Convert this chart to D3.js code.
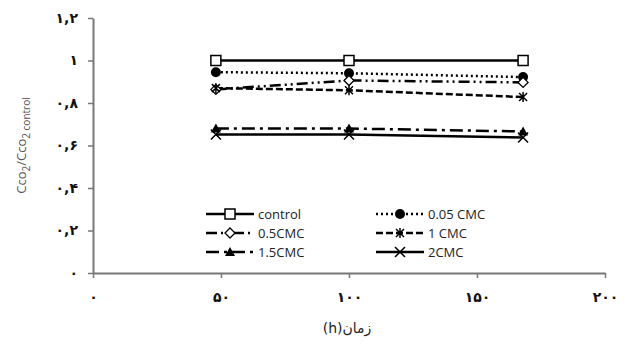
<!DOCTYPE html>
<meta charset="utf-8">
<style>
  body { margin: 0; background: #fff; }
  .tick text { font-family: 'DejaVu Sans', sans-serif; font-weight: bold; font-size: 14px; fill: #111; }
  .axis path, .axis line { stroke: #777; }
</style>
<body>
<div id="vis"></div>
<script src="https://cdn.jsdelivr.net/npm/d3@7"></script>
<script>

const width = 626,
    height = 345;

// data
const hours = [48, 100, 168];
const seriesNames = ['control', '0.05 CMC', '0.5CMC', '1 CMC', '1.5CMC', '2CMC'];
const control = [1, 1, 1];
const cmc005 = [0.945, 0.94, 0.922];
const cmc05 = [0.864, 0.906, 0.897];
const cmc1 = [0.87, 0.86, 0.828];
const cmc15 = [0.68, 0.68, 0.666];
const cmc2 = [0.652, 0.652, 0.638];
const yTicks = [0, 0.2, 0.4, 0.6, 0.8, 1, 1.2];
const xTicks = [0, 50, 100, 150, 200];

const styles = [
  {dash: null, marker: 'square'},
  {dash: '2,3', marker: 'circle'},
  {dash: '11,4,2,4,2,4', marker: 'diamond'},
  {dash: '7,3', marker: 'asterisk'},
  {dash: '13,5,3,5', marker: 'triangle'},
  {dash: null, marker: 'cross'}
];
const allValues = [control, cmc005, cmc05, cmc1, cmc15, cmc2];

const faDigits = s => String(s).replace(/[0-9]/g, d => '۰۱۲۳۴۵۶۷۸۹'[d]).replace('.', ',');

const margin = {left: 93, right: 21, top: 18, bottom: 72};

const svg = d3.select('#vis')
    .append('svg')
    .attr('width', width)
    .attr('height', height);

const x = d3.scaleLinear().domain([0, 200]).range([margin.left, width - margin.right]);
const y = d3.scaleLinear().domain([0, 1.2]).range([height - margin.bottom, margin.top]);

const yAxis = svg.append('g')
    .attr('class', 'axis')
    .attr('transform', 'translate(' + margin.left + ',0)')
    .call(d3.axisLeft(y).tickValues(yTicks).tickSize(5).tickSizeOuter(0).tickPadding(10).tickFormat(faDigits));
const xAxis = svg.append('g')
    .attr('class', 'axis')
    .attr('transform', 'translate(0,' + (height - margin.bottom) + ')')
    .call(d3.axisBottom(x).tickValues(xTicks).tickSize(5).tickSizeOuter(0).tickPadding(14).tickFormat(faDigits));
svg.selectAll('.axis path').style('stroke-width', 2);
svg.selectAll('.axis line').style('stroke-width', 1.5);

// y title
svg.append('text')
    .attr('transform', 'translate(26,' + y(0.6) + ') rotate(-90)')
    .style('font-family', 'Open Sans, sans-serif')
    .style('font-size', '13px')
    .style('fill', '#555')
    .style('text-anchor', 'middle')
    .html('Cco<tspan dy="4" font-size="10">2</tspan><tspan dy="-4">/Cco</tspan><tspan dy="4" font-size="10">2 control</tspan>');

// x title
svg.append('text')
    .attr('x', x(100) - 2)
    .attr('y', 333)
    .attr('direction', 'rtl')
    .style('font-family', 'DejaVu Sans, sans-serif')
    .style('font-size', '14px')
    .style('fill', '#222')
    .style('text-anchor', 'middle')
    .text('زمان(h)');

const drawMarker = (g, kind, cx, cy) => {
  const s = 5;
  if (kind === 'square') {
    g.append('rect').attr('x', cx - s).attr('y', cy - s).attr('width', 2 * s).attr('height', 2 * s)
      .style('fill', '#fff').style('stroke', '#000').style('stroke-width', 1.5);
  } else if (kind === 'circle') {
    g.append('circle').attr('cx', cx).attr('cy', cy).attr('r', 5).style('fill', '#000');
  } else if (kind === 'diamond') {
    g.append('path').attr('d', 'M' + cx + ',' + (cy - 5) + 'L' + (cx + 5) + ',' + cy + 'L' + cx + ',' + (cy + 5) + 'L' + (cx - 5) + ',' + cy + 'Z')
      .style('fill', '#fff').style('stroke', '#000').style('stroke-width', 1.3);
  } else if (kind === 'asterisk') {
    g.append('path').attr('d', 'M' + (cx - 4) + ',' + (cy - 4) + 'L' + (cx + 4) + ',' + (cy + 4) + 'M' + (cx + 4) + ',' + (cy - 4) + 'L' + (cx - 4) + ',' + (cy + 4) + 'M' + cx + ',' + (cy - 5) + 'V' + (cy + 5))
      .style('stroke', '#000').style('stroke-width', 1.5).style('fill', 'none');
  } else if (kind === 'triangle') {
    g.append('path').attr('d', 'M' + cx + ',' + (cy - 5) + 'L' + (cx + 5) + ',' + (cy + 4) + 'L' + (cx - 5) + ',' + (cy + 4) + 'Z')
      .style('fill', '#000');
  } else if (kind === 'cross') {
    g.append('path').attr('d', 'M' + (cx - 5) + ',' + (cy - 5) + 'L' + (cx + 5) + ',' + (cy + 5) + 'M' + (cx + 5) + ',' + (cy - 5) + 'L' + (cx - 5) + ',' + (cy + 5))
      .style('stroke', '#000').style('stroke-width', 1.5).style('fill', 'none');
  }
};

const line = d3.line()
    .x((d, i) => x(hours[i]))
    .y(d => y(d));

const chartG = svg.append('g').attr('class', 'chart-group');
allValues.forEach((vals, k) => {
  chartG.append('path')
    .attr('d', line(vals))
    .style('fill', 'none')
    .style('stroke', '#000')
    .style('stroke-width', 2.5)
    .style('stroke-dasharray', styles[k].dash);
});
allValues.forEach((vals, k) => {
  vals.forEach((v, i) => drawMarker(chartG, styles[k].marker, x(hours[i]), y(v)));
});

// legend
const legendG = svg.append('g').attr('class', 'legend');
seriesNames.forEach((name, k) => {
  const col = k % 2, row = Math.floor(k / 2);
  const lx = col === 0 ? 206 : 376;
  const ly = 214 + row * 19;
  legendG.append('path')
    .attr('d', 'M' + lx + ',' + ly + 'h48')
    .style('stroke', '#000')
    .style('stroke-width', 2.5)
    .style('stroke-dasharray', styles[k].dash);
  drawMarker(legendG, styles[k].marker, lx + 24, ly);
  legendG.append('text')
    .attr('x', lx + 52)
    .attr('y', ly + 4.5)
    .style('font-family', 'Open Sans, sans-serif')
    .style('font-size', '13px')
    .style('fill', '#222')
    .text(name);
});

</script>
</body>
